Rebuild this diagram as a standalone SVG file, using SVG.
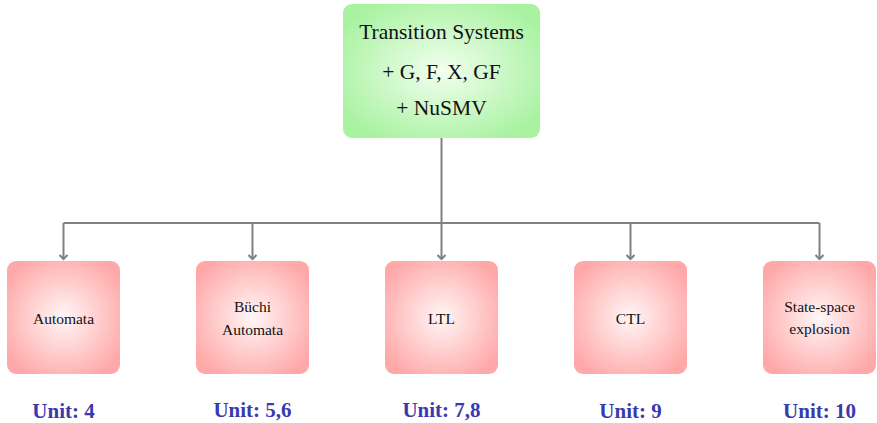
<svg xmlns="http://www.w3.org/2000/svg" width="877" height="423" viewBox="0 0 877 423">
<defs>
<radialGradient id="gg" cx="50%" cy="50%" r="60%">
<stop offset="0" stop-color="#f2fff0"/>
<stop offset="1" stop-color="#a8f2a0"/>
</radialGradient>
<radialGradient id="rg" cx="50%" cy="50%" r="60%">
<stop offset="0" stop-color="#fff6f6"/>
<stop offset="1" stop-color="#ffa8a8"/>
</radialGradient>
<marker id="ah" markerWidth="10" markerHeight="10" refX="5" refY="5" orient="auto" markerUnits="userSpaceOnUse">
<path d="M1,1 L5,5 L1,9" fill="none" stroke="#808080" stroke-width="2"/>
</marker>
<style>
.top{fill:url(#gg)}
.bot{fill:url(#rg)}
.t{font-family:"Liberation Serif","DejaVu Serif",serif;fill:#111;text-anchor:middle}
.tt{font-size:21.5px}
.bt{font-size:15.5px}
.u{font-family:"Liberation Serif","DejaVu Serif",serif;font-weight:bold;font-size:21px;fill:#3a3ab0;text-anchor:middle}
.c{fill:none;stroke:#808080;stroke-width:2}
</style>
</defs>
<g id="connectors">
<path class="c" d="M441.5,138 V222"/>
<path class="c" d="M63.5,223 H819.5"/>
<path class="c" d="M63.5,223 V259" marker-end="url(#ah)"/>
<path class="c" d="M252.5,223 V259" marker-end="url(#ah)"/>
<path class="c" d="M441.5,223 V259" marker-end="url(#ah)"/>
<path class="c" d="M630.5,223 V259" marker-end="url(#ah)"/>
<path class="c" d="M819.5,223 V259" marker-end="url(#ah)"/>
</g>
<g id="root">
<rect class="top" x="343" y="4" width="197" height="134" rx="9"/>
<text class="t tt" x="441.5" y="39">Transition Systems</text>
<text class="t tt" x="441.5" y="79">+ G, F, X, GF</text>
<text class="t tt" x="441.5" y="115">+ NuSMV</text>
</g>
<g id="n1">
<rect class="bot" x="7" y="261" width="113" height="113" rx="9"/>
<text class="t bt" x="63.5" y="324">Automata</text>
<text class="u" x="63.5" y="418">Unit: 4</text>
</g>
<g id="n2">
<rect class="bot" x="196" y="261" width="113" height="113" rx="9"/>
<text class="t bt" x="252.5" y="312">Büchi</text>
<text class="t bt" x="252.5" y="335">Automata</text>
<text class="u" x="252.5" y="417">Unit: 5,6</text>
</g>
<g id="n3">
<rect class="bot" x="385" y="261" width="113" height="113" rx="9"/>
<text class="t bt" x="441.5" y="324">LTL</text>
<text class="u" x="441.5" y="417">Unit: 7,8</text>
</g>
<g id="n4">
<rect class="bot" x="574" y="261" width="113" height="113" rx="9"/>
<text class="t bt" x="630.5" y="324">CTL</text>
<text class="u" x="630.5" y="418">Unit: 9</text>
</g>
<g id="n5">
<rect class="bot" x="763" y="261" width="113" height="113" rx="9"/>
<text class="t bt" x="819.5" y="312">State-space</text>
<text class="t bt" x="819.5" y="334">explosion</text>
<text class="u" x="819.5" y="418">Unit: 10</text>
</g>
</svg>
